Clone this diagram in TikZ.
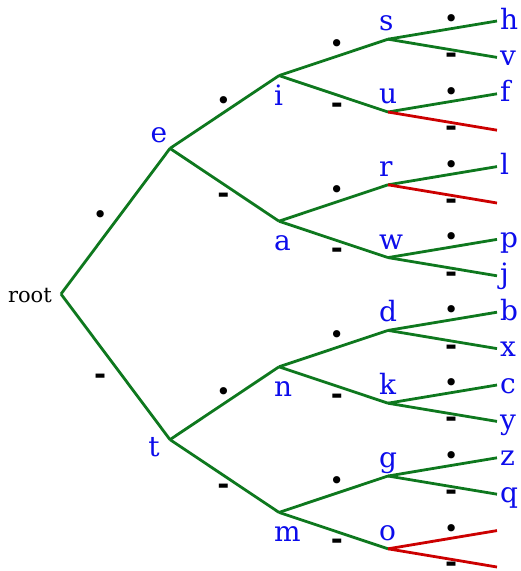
\documentclass[tikz,border=0pt]{standalone}
\usepackage{fontspec}
\setmainfont{DejaVu Serif}
\newfontfamily\morsefont{DejaVu Sans}
\usetikzlibrary{positioning,calc}

\definecolor{edgegreen}{RGB}{14,120,30}
\definecolor{edgered}{RGB}{204,0,0}
\definecolor{letterblue}{RGB}{12,12,235}

\tikzset{
  jn/.style={inner sep=0pt, outer sep=0pt, minimum size=0pt},
  lbl/.style={text=letterblue, font=\fontsize{28}{28}\selectfont, inner sep=0pt},
  br/.style={draw=edgegreen, line width=2.8pt},
  nobr/.style={draw=edgered, line width=2.8pt},
  dotl/.style={font=\morsefont\fontsize{25}{25}\selectfont, inner sep=0pt},
  dashl/.style={font=\morsefont\bfseries\fontsize{29}{29}\selectfont, inner sep=0pt},
  up/.style={label={[lbl, anchor=base west, xshift=-9pt, yshift=8.5pt]above:#1}},
  down/.style={label={[lbl, anchor=base west, xshift=-5pt, yshift=-29.5pt]below:#1}},
  leaf/.style={label={[lbl, anchor=base west, xshift=3pt, yshift=-8pt]right:#1}},
}

\begin{document}
\begin{tikzpicture}[x=1pt, y=1pt]
  \useasboundingbox (0,0) rectangle (521,-571);
  % leaves
  \node (h) [jn, leaf=h] at (497,-21) {};
  \node (v) [jn, leaf=v, below=36.4pt of h] {};
  \node (f) [jn, leaf=f, below=36.4pt of v] {};
  \node (ux) [jn, below=36.4pt of f] {};
  \node (l) [jn, leaf=l, below=36.4pt of ux] {};
  \node (rx) [jn, below=36.4pt of l] {};
  \node (p) [jn, leaf=p, below=36.4pt of rx] {};
  \node (j) [jn, leaf=j, below=36.4pt of p] {};
  \node (b) [jn, leaf=b, below=36.4pt of j] {};
  \node (x) [jn, leaf=x, below=36.4pt of b] {};
  \node (c) [jn, leaf=c, below=36.4pt of x] {};
  \node (y) [jn, leaf=y, below=36.4pt of c] {};
  \node (z) [jn, leaf=z, below=36.4pt of y] {};
  \node (q) [jn, leaf=q, below=36.4pt of z] {};
  \node (ox1) [jn, below=36.4pt of q] {};
  \node (ox2) [jn, below=36.4pt of ox1] {};
  % third level
  \node (s) [jn, up=s, left=109pt of $(h)!0.5!(v)$] {};
  \node (u) [jn, up=u, left=109pt of $(f)!0.5!(ux)$] {};
  \node (r) [jn, up=r, left=109pt of $(l)!0.5!(rx)$] {};
  \node (w) [jn, up=w, left=109pt of $(p)!0.5!(j)$] {};
  \node (d) [jn, up=d, left=109pt of $(b)!0.5!(x)$] {};
  \node (k) [jn, up=k, left=109pt of $(c)!0.5!(y)$] {};
  \node (g) [jn, up=g, left=109pt of $(z)!0.5!(q)$] {};
  \node (o) [jn, up=o, left=109pt of $(ox1)!0.5!(ox2)$] {};
  % second level
  \node (i) [jn, down=i, left=109pt of $(s)!0.5!(u)$] {};
  \node (a) [jn, down=a, left=109pt of $(r)!0.5!(w)$] {};
  \node (n) [jn, down=n, left=109pt of $(d)!0.5!(k)$] {};
  \node (m) [jn, down=m, left=109pt of $(g)!0.5!(o)$] {};
  % first level and root
  \node (e) [jn, left=109pt of $(i)!0.5!(a)$,
    label={[lbl, anchor=base, xshift=-11pt, yshift=6pt]above:e}] {};
  \node (t) [jn, left=109pt of $(n)!0.5!(m)$,
    label={[lbl, anchor=base, xshift=-16pt, yshift=-17pt]below:t}] {};
  \node (root) [jn, left=109pt of $(e)!0.5!(t)$,
    label={[inner sep=0pt, font=\fontsize{21}{21}\selectfont, anchor=base east, xshift=-9pt, yshift=-8pt]left:root}] {};

  \draw[br] (root) -- node[dotl, pos=.36, yshift=25pt] {•} (e);
  \draw[br] (root) -- node[dashl, pos=.36, yshift=-33pt] {-} (t);

  \draw[br] (e) -- node[dotl, pos=.49, yshift=10pt] {•} (i);
  \draw[br] (e) -- node[dashl, pos=.49, yshift=-14pt] {-} (a);
  \draw[br] (t) -- node[dotl, pos=.49, yshift=10pt] {•} (n);
  \draw[br] (t) -- node[dashl, pos=.49, yshift=-14pt] {-} (m);

  \draw[br] (i) -- node[dotl, pos=.53, yshift=10pt] {•} (s);
  \draw[br] (i) -- node[dashl, pos=.53, yshift=-13pt] {-} (u);
  \draw[br] (a) -- node[dotl, pos=.53, yshift=10pt] {•} (r);
  \draw[br] (a) -- node[dashl, pos=.53, yshift=-13pt] {-} (w);
  \draw[br] (n) -- node[dotl, pos=.53, yshift=10pt] {•} (d);
  \draw[br] (n) -- node[dashl, pos=.53, yshift=-13pt] {-} (k);
  \draw[br] (m) -- node[dotl, pos=.53, yshift=10pt] {•} (g);
  \draw[br] (m) -- node[dashl, pos=.53, yshift=-13pt] {-} (o);

  \draw[br] (s) -- node[dotl, pos=.58, yshift=7.5pt] {•} (h);
  \draw[br] (s) -- node[dashl, pos=.58, yshift=-9pt] {-} (v);
  \draw[br] (u) -- node[dotl, pos=.58, yshift=7.5pt] {•} (f);
  \draw[nobr] (u) -- node[dashl, pos=.58, yshift=-9pt] {-} (ux);
  \draw[br] (r) -- node[dotl, pos=.58, yshift=7.5pt] {•} (l);
  \draw[nobr] (r) -- node[dashl, pos=.58, yshift=-9pt] {-} (rx);
  \draw[br] (w) -- node[dotl, pos=.58, yshift=7.5pt] {•} (p);
  \draw[br] (w) -- node[dashl, pos=.58, yshift=-9pt] {-} (j);
  \draw[br] (d) -- node[dotl, pos=.58, yshift=7.5pt] {•} (b);
  \draw[br] (d) -- node[dashl, pos=.58, yshift=-9pt] {-} (x);
  \draw[br] (k) -- node[dotl, pos=.58, yshift=7.5pt] {•} (c);
  \draw[br] (k) -- node[dashl, pos=.58, yshift=-9pt] {-} (y);
  \draw[br] (g) -- node[dotl, pos=.58, yshift=7.5pt] {•} (z);
  \draw[br] (g) -- node[dashl, pos=.58, yshift=-9pt] {-} (q);
  \draw[nobr] (o) -- node[dotl, pos=.58, yshift=7.5pt] {•} (ox1);
  \draw[nobr] (o) -- node[dashl, pos=.58, yshift=-8pt] {-} (ox2);
\end{tikzpicture}
\end{document}
